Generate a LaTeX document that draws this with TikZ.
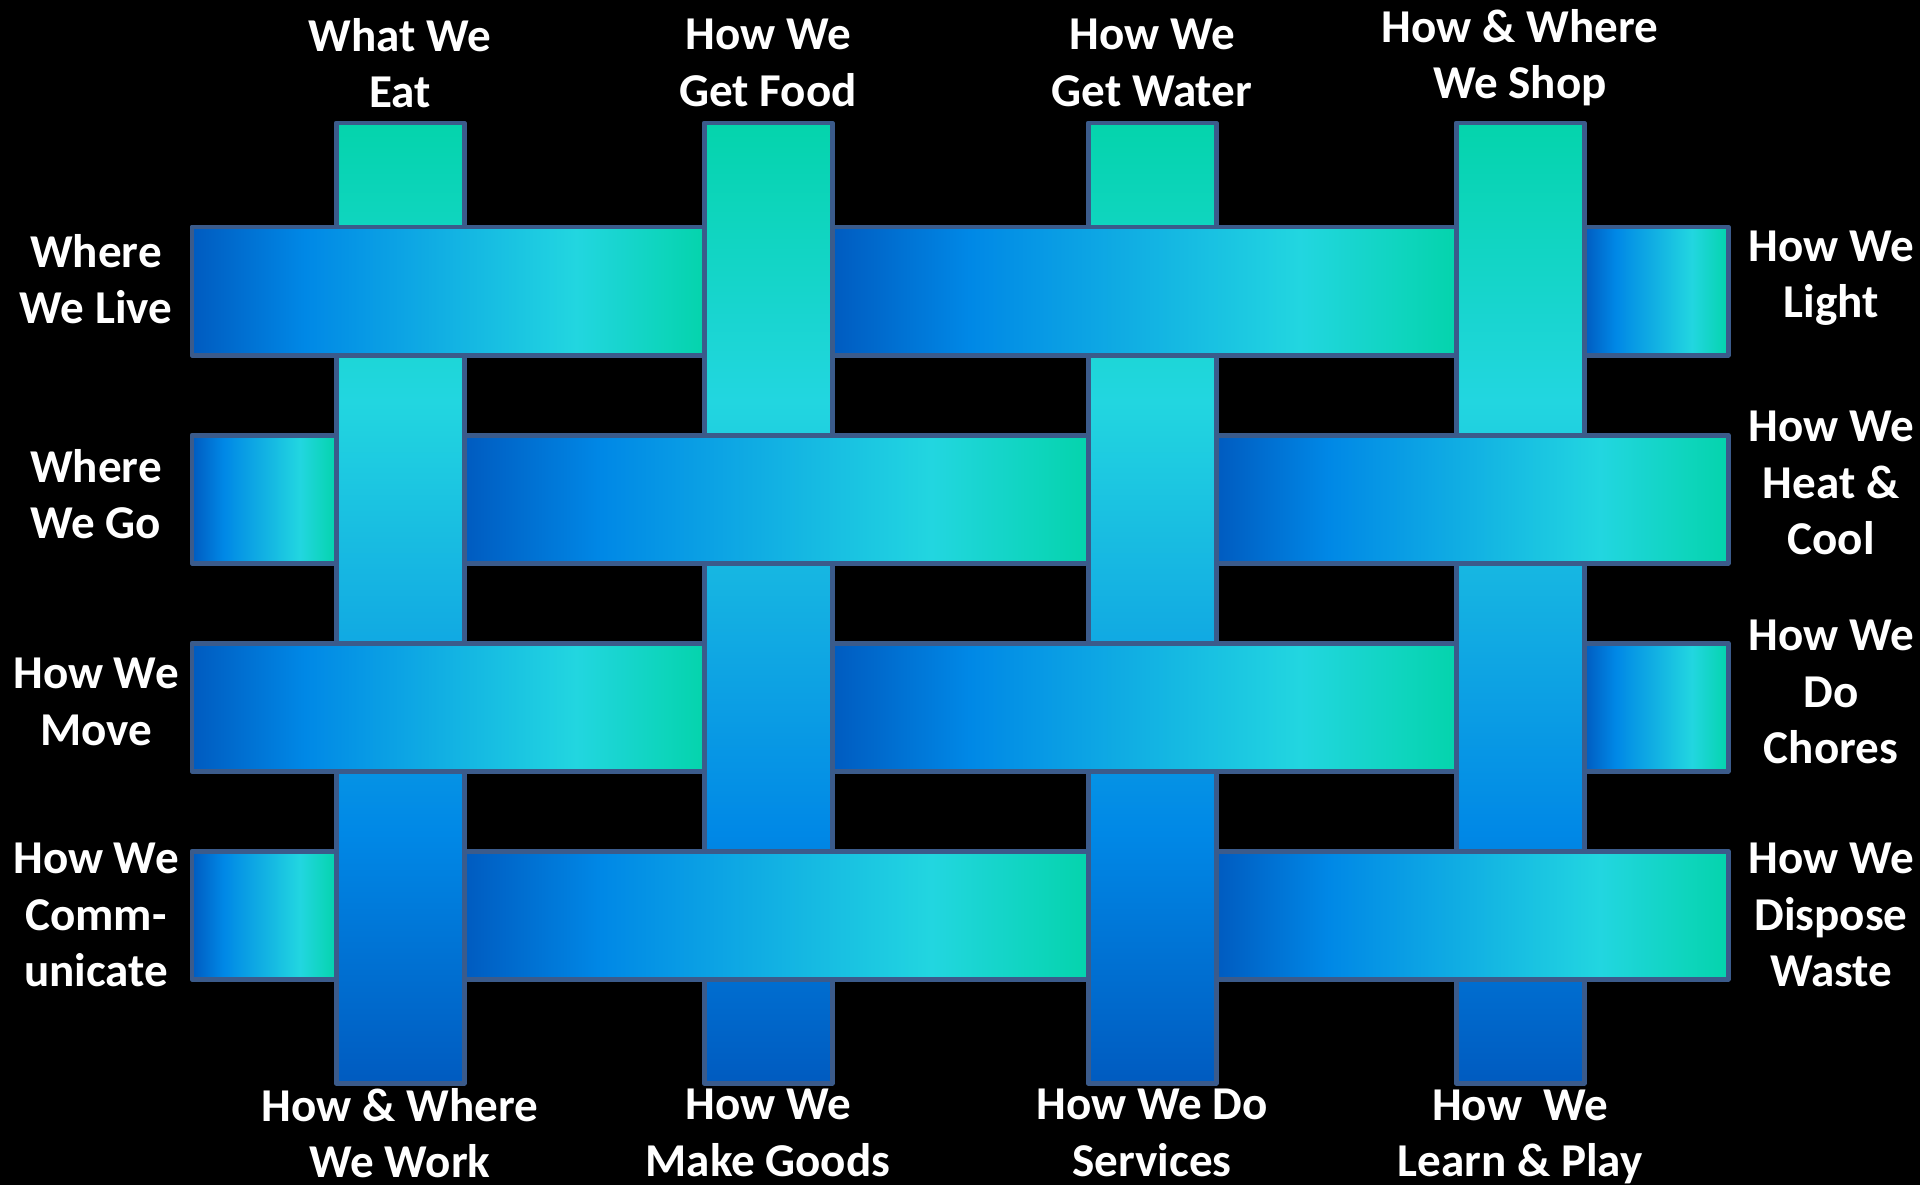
\documentclass[tikz,border=0pt]{standalone}
\usepackage{fontspec}
\setmainfont{Carlito}
\usepackage{tikz}

\definecolor{edgeblue}{HTML}{3B5B8B}
\definecolor{deepblue}{HTML}{005BC0}
\definecolor{midblue}{HTML}{0088E6}
\definecolor{skyblue}{HTML}{14B0E2}
\definecolor{aqua}{HTML}{22D6E0}
\definecolor{tealgreen}{HTML}{04D4AC}

\pgfdeclarehorizontalshading{weftshade}{100bp}{color(0bp)=(deepblue); color(25bp)=(deepblue); color(36bp)=(midblue); color(62.5bp)=(aqua); color(75bp)=(tealgreen); color(100bp)=(tealgreen)}
\pgfdeclareverticalshading{warpshade}{100bp}{color(0bp)=(deepblue); color(25bp)=(deepblue); color(38bp)=(midblue); color(50bp)=(skyblue); color(60.5bp)=(aqua); color(75bp)=(tealgreen); color(100bp)=(tealgreen)}

\begin{document}
\begin{tikzpicture}[
  lbl/.style={text=white, font=\bfseries\fontsize{13.4}{16}\selectfont, align=center},
  warp/.style={shading=warpshade, draw=edgeblue, line width=1.42pt, line join=round},
  weft/.style={shading=weftshade, draw=edgeblue, line width=1.42pt, line join=round}]
  \fill[black] (0,0) rectangle (19.2,11.85);
  \useasboundingbox (0,0) rectangle (19.2,11.85);

  % Bandes verticales
  \foreach \xa/\xb in {3.36/4.64, 7.04/8.32, 10.88/12.16, 14.56/15.84}
    \shadedraw[warp] (\xa,1.02) rectangle (\xb,10.62);

  % Rangs 1 et 3 : dessus des bandes 1 et 3
  \foreach \ya/\yb in {8.30/9.58, 4.14/5.42} {
    \shadedraw[weft] (1.92,\ya) rectangle (7.04,\yb);
    \shadedraw[weft] (8.32,\ya) rectangle (14.56,\yb);
    \shadedraw[weft] (15.84,\ya) rectangle (17.28,\yb);
  }
  % Rangs 2 et 4 : dessus des bandes 2 et 4
  \foreach \ya/\yb in {6.22/7.50, 2.06/3.34} {
    \shadedraw[weft] (1.92,\ya) rectangle (3.36,\yb);
    \shadedraw[weft] (4.64,\ya) rectangle (10.88,\yb);
    \shadedraw[weft] (12.16,\ya) rectangle (17.28,\yb);
  }

  % Textes du haut
  \node[lbl] (eat) at (4.00,11.22) {What We\\Eat};
  \node[lbl] (food) at (7.68,11.22) {How We\\Get Food};
  \node[lbl] (water) at (11.52,11.22) {How We\\Get Water};
  \node[lbl] (shop) at (15.20,11.27) {How \& Where\\We Shop};

  % Textes du bas
  \node[lbl] (work) at (4.00,0.52) {How \& Where\\We Work};
  \node[lbl] (goods) at (7.68,0.52) {How We\\Make Goods};
  \node[lbl] (services) at (11.52,0.52) {How We Do\\Services};
  \node[lbl] (learn) at (15.20,0.48) {How\ \ We\\Learn \& Play};

  % Textes de gauche
  \node[lbl] (live) at (0.96,9.06) {Where\\We Live};
  \node[lbl] (go) at (0.96,6.91) {Where\\We Go};
  \node[lbl] (move) at (0.96,4.83) {How We\\Move};
  \node[lbl] (comm) at (0.96,2.70) {How We\\Comm-\\unicate};

  % Textes de droite
  \node[lbl] (light) at (18.31,9.07) {How We\\Light};
  \node[lbl] (heat) at (18.31,7.02) {How We\\Heat \&\\Cool};
  \node[lbl] (chores) at (18.31,4.93) {How We\\Do\\Chores};
  \node[lbl] (waste) at (18.31,2.70) {How We\\Dispose\\Waste};
\end{tikzpicture}
\end{document}
